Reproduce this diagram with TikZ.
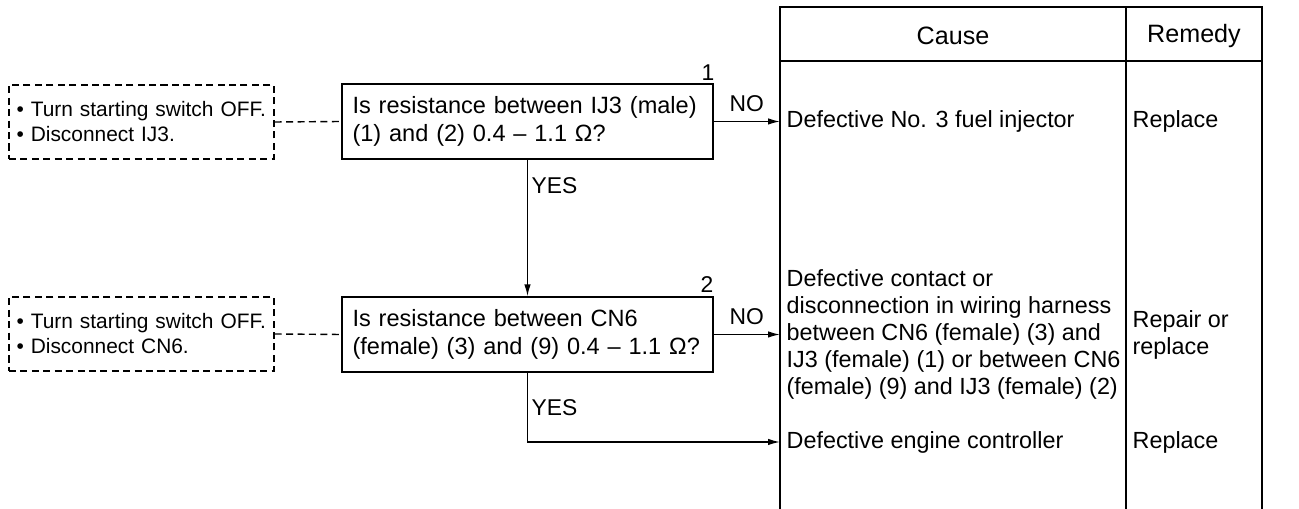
\documentclass[tikz,border=0pt]{standalone}
\usepackage{fontspec}
\setmainfont{Liberation Sans}
\usepackage{tikz}
\usetikzlibrary{arrows.meta,positioning}

\begin{document}
\begin{tikzpicture}[x=0.02cm,y=-0.02cm,>={Latex[length=2.4mm,width=1.3mm]},line width=0.8pt,
  qbox/.style={draw,minimum width=7.42cm,minimum height=1.5cm,text width=7.0cm,align=left,inner sep=0pt,font=\fontsize{13.4}{15.5}\selectfont},
  chkbox/.style={draw,dashed,dash pattern=on 4pt off 2.5pt,minimum width=5.3cm,minimum height=1.48cm,text width=5.0cm,align=left,inner sep=0pt,font=\fontsize{11.9}{14.2}\selectfont},
  cell/.style={anchor=west,align=left,inner sep=3.4pt,font=\fontsize{13.3}{15.4}\selectfont},
  head/.style={font=\fontsize{14.3}{16}\selectfont},
  lbl/.style={font=\fontsize{13}{15.4}\selectfont,inner sep=2pt},
  num/.style={font=\fontsize{13}{15.4}\selectfont,inner sep=0pt}]
\useasboundingbox (0,0) rectangle (1299,509);

% table
\draw (780,509) -- (780,7) -- (1262,7) -- (1262,509);
\draw (1126,7) -- (1126,509);
\draw (780,61) -- (1262,61);
\node[head] (hcause) at (953,36) {Cause};
\node[head] (hremedy) at (1194,36) {Remedy};

% checks
\node[qbox] (q1) at (527.5,121.5) {Is resistance between IJ3 (male)\\(1) and (2) 0.4 -- 1.1 Ω?};
\node[qbox] (q2) at (527.5,334.5) {Is resistance between CN6\\(female) (3) and (9) 0.4 -- 1.1 Ω?};
\node[num] (n1) at (708,73) {1};
\node[num] (n2) at (707,285) {2};

% preparations
\node[chkbox] (d1) at (141.5,122) {• Turn starting switch OFF.\\• Disconnect IJ3.};
\node[chkbox] (d2) at (141.5,334) {• Turn starting switch OFF.\\• Disconnect CN6.};
\draw[dashed,dash pattern=on 4pt off 2.5pt] (d1.east) -- (q1.west);
\draw[dashed,dash pattern=on 4pt off 2.5pt] (d2.east) -- (q2.west);

% causes and remedies
\node[cell] (c1) at (780,121.5) {Defective No. 3 fuel injector};
\node[cell] (c2) at (780,334.5) {Defective contact or\\disconnection in wiring harness\\between CN6 (female) (3) and\\IJ3 (female) (1) or between CN6\\(female) (9) and IJ3 (female) (2)};
\node[cell] (c3) at (780,442) {Defective engine controller};
\node[cell] (r1) at (1126,121.5) {Replace};
\node[cell] (r2) at (1126,335) {Repair or\\replace};
\node[cell] (r3) at (1126,442) {Replace};

% flow
\draw[->] (q1.east) -- node[lbl,above=3pt] {NO} (c1.west);
\draw[->] (q2.east) -- node[lbl,above=3pt] {NO} (c2.west);
\draw[->] (q1.south) -- node[lbl,pos=0.19,right] {YES} (q2.north);
\draw[->] (q2.south) |- node[lbl,pos=0.25,right] {YES} (c3.west);
\end{tikzpicture}
\end{document}
